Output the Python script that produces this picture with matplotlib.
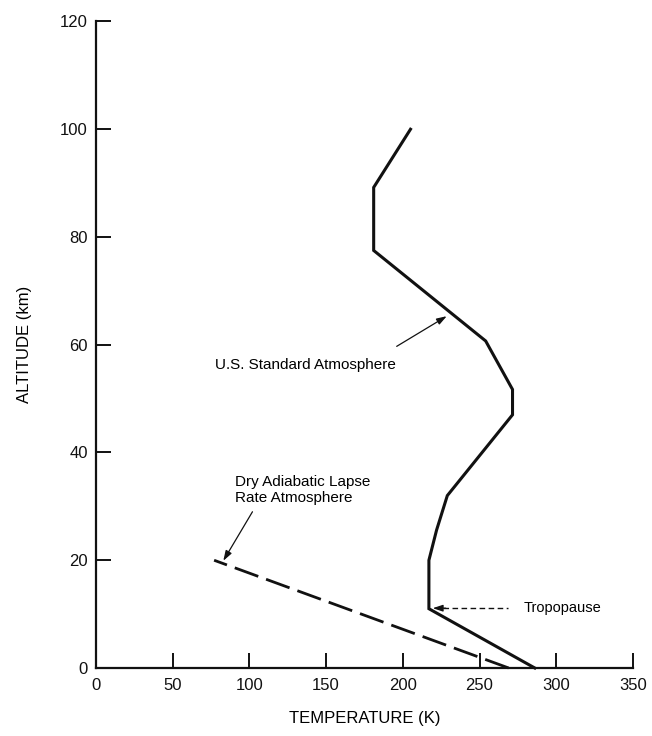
import matplotlib
matplotlib.use("Agg")
import matplotlib.pyplot as plt

plt.rcParams['font.family'] = ['Liberation Sans', 'DejaVu Sans']

# U.S. Standard Atmosphere profile (temperature K, altitude km)
std_temp = [286, 217, 217, 222, 229, 271.5, 271.5, 254, 181, 181, 205]
std_alt = [0, 11, 20, 25.6, 32, 47, 51.7, 60.7, 77.5, 89.2, 100]

# Dry adiabatic lapse rate atmosphere
dry_temp = [269, 77]
dry_alt = [0, 20]

x_ticks = [0, 50, 100, 150, 200, 250, 300, 350]
y_ticks = [0, 20, 40, 60, 80, 100, 120]

fig = plt.figure(figsize=(6.52, 7.36), dpi=100)
ax = fig.add_axes([0.1472, 0.0924, 0.8236, 0.8784])

ax.plot(std_temp, std_alt, color='#111111', lw=2.2, solid_joinstyle='miter', clip_on=False)
ax.plot(dry_temp, dry_alt, color='#111111', lw=2.0, dashes=(9, 3), clip_on=False)

ax.set_xlim(0, 350)
ax.set_ylim(0, 120)
ax.set_xticks(x_ticks)
ax.set_yticks(y_ticks)

for side in ['top', 'right']:
    ax.spines[side].set_visible(False)
for side in ['left', 'bottom']:
    ax.spines[side].set_linewidth(1.6)
    ax.spines[side].set_color('#111111')

ax.tick_params(direction='in', length=11, width=1.4, colors='#111111',
               labelsize=12, pad=7)
ax.tick_params(axis='y', pad=6)

ax.set_xlabel('TEMPERATURE (K)', fontsize=12, labelpad=13)
ax.set_ylabel('ALTITUDE (km)', fontsize=12, labelpad=20)

# labels and arrows
ax.text(77.6, 56.2, 'U.S. Standard Atmosphere', fontsize=11, va='center', ha='left')
ax.annotate('', xy=(228.6, 65.3), xytext=(196, 59.7),
            arrowprops=dict(arrowstyle='-|>,head_length=0.6,head_width=0.2',
                            color='#111111', lw=0.9, shrinkA=0, shrinkB=0))

ax.text(90.6, 33.1, 'Dry Adiabatic Lapse\nRate Atmosphere', fontsize=11,
        va='center', ha='left', linespacing=1.2)
ax.annotate('', xy=(83, 19.9), xytext=(102, 29),
            arrowprops=dict(arrowstyle='-|>,head_length=0.6,head_width=0.2',
                            color='#111111', lw=0.9, shrinkA=0, shrinkB=0))

ax.text(278.9, 11.1, 'Tropopause', fontsize=10.5, va='center', ha='left')
ax.plot([226, 268.6], [11.1, 11.1], color='#111111', lw=1.0, dashes=(4, 2.5))
ax.annotate('', xy=(219.5, 11.1), xytext=(228, 11.1),
            arrowprops=dict(arrowstyle='-|>,head_length=0.6,head_width=0.2',
                            color='#111111', lw=0.9, shrinkA=0, shrinkB=0))

fig.savefig('out.png', dpi=100)
